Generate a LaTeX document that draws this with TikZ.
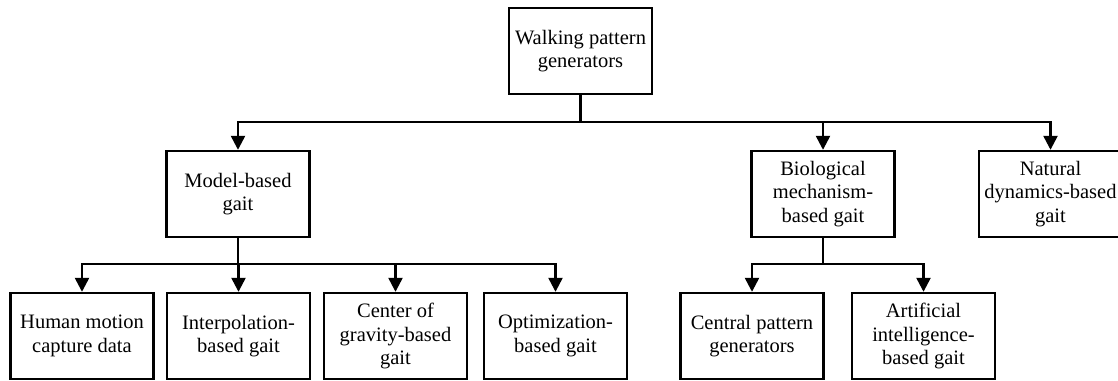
\documentclass[tikz,border=0pt]{standalone}
\usepackage{fontspec}
\setmainfont{Liberation Serif}
\usetikzlibrary{arrows.meta}
\begin{document}
\begin{tikzpicture}[x=1pt,y=-1pt,
  box/.style={draw,line width=2.4pt,minimum width=143pt,minimum height=86pt,inner sep=0pt,align=center,font=\fontsize{20.5}{23.5}\selectfont},
  arr/.style={line width=2.4pt,-{Triangle[width=14pt,length=14pt]}}]
\clip (0,0) rectangle (1118,380);
\node[box] (top) at (580.5,51) {Walking pattern\\generators};
\node[box] (model) at (238,194) {Model-based\\gait};
\node[box] (bio) at (823,194) {Biological\\mechanism-\\based gait};
\node[box] (nat) at (1050.5,194) {Natural\\dynamics-based\\gait};
\node[box] (hum) at (82,336) {Human motion\\capture data};
\node[box] (intp) at (238.5,336) {Interpolation-\\based gait};
\node[box] (cog) at (395.5,336) {Center of\\gravity-based\\gait};
\node[box] (opt) at (555.5,336) {Optimization-\\based gait};
\node[box] (cpg) at (752,336) {Central pattern\\generators};
\node[box] (ai) at (923.5,336) {Artificial\\intelligence-\\based gait};
\coordinate (b1) at (0,122);
\coordinate (b2) at (0,264);
\foreach \c in {model,bio,nat}
  \draw[arr] (top.south) -- (top.south |- b1) -| (\c.north);
\foreach \c in {hum,intp,cog,opt}
  \draw[arr] (model.south) -- (model.south |- b2) -| (\c.north);
\foreach \c in {cpg,ai}
  \draw[arr] (bio.south) -- (bio.south |- b2) -| (\c.north);
\end{tikzpicture}
\end{document}
